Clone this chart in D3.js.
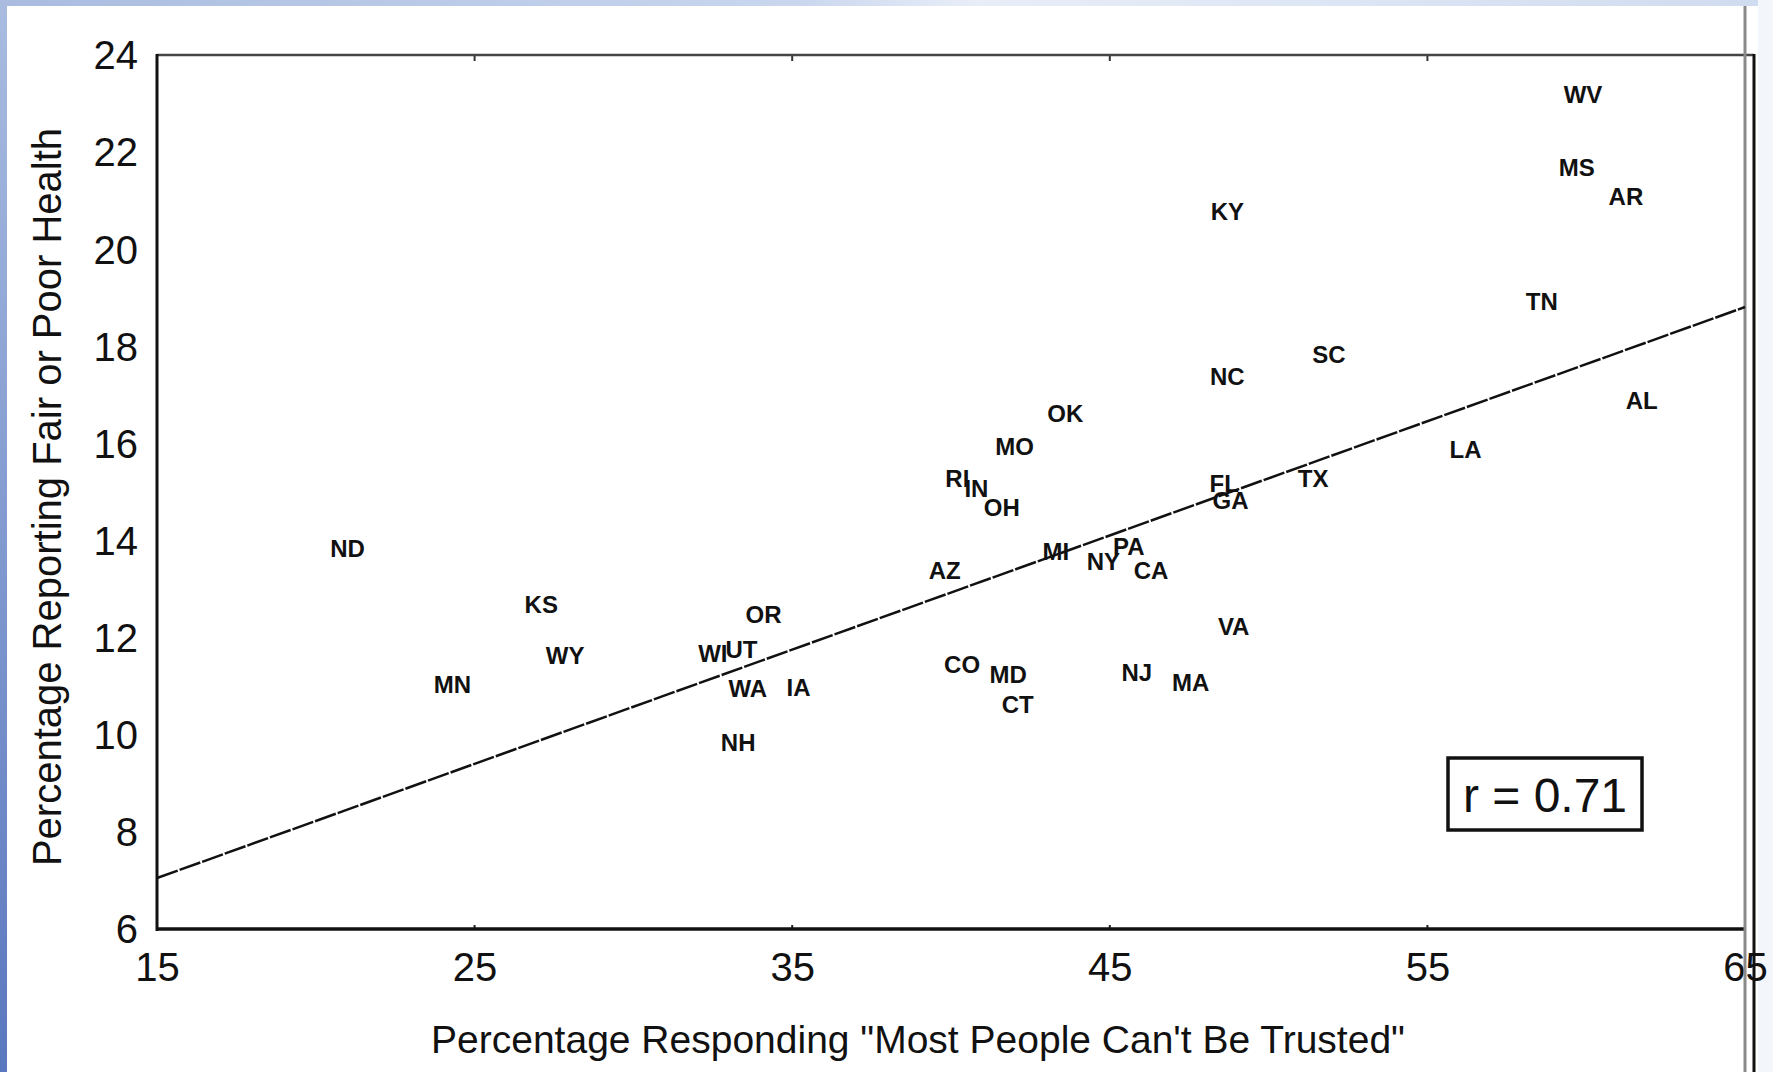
<!DOCTYPE html>
<html>
<head>
<meta charset="utf-8">
<script src="https://cdn.jsdelivr.net/npm/d3@7"></script>
<style>
  html, body { margin: 0; padding: 0; background: #ffffff; }
  svg { display: block; }
  text { font-family: "Liberation Sans", Arial, sans-serif; fill: #111; }
</style>
</head>
<body>
<svg id="chart" width="1773" height="1072"></svg>
<script>
// State abbreviations and their values
const states = ["WV","MS","AR","KY","TN","SC","NC","AL","OK","MO","LA","RI","IN","OH","FL","GA","TX",
                "MI","NY","PA","CA","AZ","ND","KS","OR","VA","WY","WI","UT","MN","CO","MD","NJ","MA",
                "WA","IA","CT","NH"];
// Percentage responding "most people can't be trusted"
const distrust = [59.9, 59.7, 61.25, 48.7, 58.6, 51.9, 48.7, 61.75, 43.6, 42.0, 56.2, 40.2, 40.8, 41.6, 48.6, 48.8, 51.4,
                  43.3, 44.8, 45.6, 46.3, 39.8, 21.0, 27.1, 34.1, 48.9, 27.85, 32.5, 33.4, 24.3, 40.35, 41.8, 45.85, 47.55,
                  33.6, 35.2, 42.1, 33.3];
// Percentage reporting fair or poor health
const poorHealth = [23.2, 21.7, 21.1, 20.8, 18.95, 17.85, 17.4, 16.9, 16.65, 15.97, 15.9, 15.3, 15.1, 14.7, 15.2, 14.85, 15.3,
                    13.8, 13.6, 13.9, 13.4, 13.4, 13.85, 12.7, 12.5, 12.25, 11.65, 11.7, 11.77, 11.05, 11.48, 11.27, 11.3, 11.1,
                    10.98, 11.0, 10.65, 9.87];

// Fitted line end points
const fitX = [15, 65];
const fitY = [7.07, 18.83];
const correlation = "r = 0.71";

const xTicks = [15, 25, 35, 45, 55, 65];
const yTicks = [6, 8, 10, 12, 14, 16, 18, 20, 22, 24];
const xTitle = "Percentage Responding \"Most People Can't Be Trusted\"";
const yTitle = "Percentage Reporting Fair or Poor Health";

const svg = d3.select("#chart");
const W = 1773, H = 1072;

const x = d3.scaleLinear().domain([15, 65]).range([157, 1745]);
const y = d3.scaleLinear().domain([6, 24]).range([930, 56]);

// slide background trim
const defs = svg.append("defs");
const gLeft = defs.append("linearGradient").attr("id", "leftTrim").attr("x1", 0).attr("y1", 0).attr("x2", 0).attr("y2", 1);
gLeft.append("stop").attr("offset", "0%").attr("stop-color", "#a9bce0");
gLeft.append("stop").attr("offset", "100%").attr("stop-color", "#5a78bf");
const gTop = defs.append("linearGradient").attr("id", "topTrim").attr("x1", 0).attr("y1", 0).attr("x2", 1).attr("y2", 0);
gTop.append("stop").attr("offset", "0%").attr("stop-color", "#a9bce0");
gTop.append("stop").attr("offset", "45%").attr("stop-color", "#c9d6ee");
gTop.append("stop").attr("offset", "55%").attr("stop-color", "#e8eef8");
gTop.append("stop").attr("offset", "100%").attr("stop-color", "#cfdbef");

svg.append("rect").attr("x", 0).attr("y", 0).attr("width", W).attr("height", H).attr("fill", "#fff");
svg.append("rect").attr("x", 0).attr("y", 0).attr("width", W).attr("height", 6).attr("fill", "url(#topTrim)");
svg.append("rect").attr("x", 0).attr("y", 0).attr("width", 7).attr("height", H).attr("fill", "url(#leftTrim)");
svg.append("rect").attr("x", 1758).attr("y", 0).attr("width", 15).attr("height", H).attr("fill", "#f3f6fb");

// axes (labels only; the frame is drawn below)
const xAxis = d3.axisBottom(x).tickValues(xTicks).tickSize(0).tickPadding(23).tickFormat(d3.format("d"));
const gx = svg.append("g").attr("transform", `translate(0,${y(6)})`).call(xAxis);
gx.select(".domain").remove();
gx.selectAll("text").attr("font-size", 40).attr("font-family", "Liberation Sans, Arial, sans-serif").attr("fill", "#111");

const yAxis = d3.axisLeft(y).tickValues(yTicks).tickSize(0).tickPadding(19).tickFormat(d3.format("d"));
const gy = svg.append("g").attr("transform", `translate(${x(15)},0)`).call(yAxis);
gy.select(".domain").remove();
gy.selectAll("text").attr("font-size", 40).attr("font-family", "Liberation Sans, Arial, sans-serif").attr("fill", "#111");

// small inward tick marks
svg.append("g").selectAll("line.xt").data(xTicks.slice(1, -1)).join("line")
  .attr("x1", d => x(d)).attr("x2", d => x(d)).attr("y1", y(6)).attr("y2", y(6) - 5)
  .attr("stroke", "#222").attr("stroke-width", 2);
svg.append("g").selectAll("line.xt2").data(xTicks.slice(1, -1)).join("line")
  .attr("x1", d => x(d)).attr("x2", d => x(d)).attr("y1", y(24)).attr("y2", y(24) + 5)
  .attr("stroke", "#333").attr("stroke-width", 2);

// plot frame
const frame = svg.append("g").attr("fill", "none");
frame.append("line").attr("x1", x(15)).attr("x2", x(65) + 9).attr("y1", y(24) - 1).attr("y2", y(24) - 1)
  .attr("stroke", "#444").attr("stroke-width", 2.5);
frame.append("line").attr("x1", x(15)).attr("x2", x(15)).attr("y1", y(24) - 2).attr("y2", y(6) + 1)
  .attr("stroke", "#111").attr("stroke-width", 3);
frame.append("line").attr("x1", x(15)).attr("x2", x(65)).attr("y1", y(6) - 1).attr("y2", y(6) - 1)
  .attr("stroke", "#111").attr("stroke-width", 3.5);
// right edge rules running the full height
frame.append("line").attr("x1", x(65)).attr("x2", x(65)).attr("y1", 6).attr("y2", H)
  .attr("stroke", "#8a8a8a").attr("stroke-width", 3);
frame.append("line").attr("x1", x(65) + 9).attr("x2", x(65) + 9).attr("y1", y(24) - 2).attr("y2", H)
  .attr("stroke", "#111").attr("stroke-width", 3);

// state labels
const pts = states.map((s, i) => ({ s, dx: distrust[i], h: poorHealth[i] }));
svg.append("g").selectAll("text.state").data(pts).join("text")
  .attr("class", "state")
  .attr("x", d => x(d.dx)).attr("y", d => y(d.h))
  .attr("dy", "0.36em")
  .attr("text-anchor", "middle")
  .attr("font-size", 24).attr("font-weight", "bold")
  .text(d => d.s);

// fitted line
const line = d3.line().x(d => x(d[0])).y(d => y(d[1]));
svg.append("path")
  .datum(fitX.map((v, i) => [v, fitY[i]]))
  .attr("d", line)
  .attr("fill", "none").attr("stroke", "#111").attr("stroke-width", 2.5)
  .attr("stroke-dasharray", "22,2");

// correlation box
svg.append("rect").attr("x", 1448).attr("y", 758).attr("width", 194).attr("height", 72)
  .attr("fill", "#fff").attr("stroke", "#111").attr("stroke-width", 3.5);
svg.append("text").attr("x", 1545).attr("y", 812).attr("text-anchor", "middle")
  .attr("font-size", 48).text(correlation);

// axis titles
svg.append("text").attr("x", 918).attr("y", 1053).attr("text-anchor", "middle")
  .attr("font-size", 39).text(xTitle);
svg.append("text").attr("transform", "translate(61,497) rotate(-90)").attr("text-anchor", "middle")
  .attr("font-size", 40).text(yTitle);
</script>
</body>
</html>
